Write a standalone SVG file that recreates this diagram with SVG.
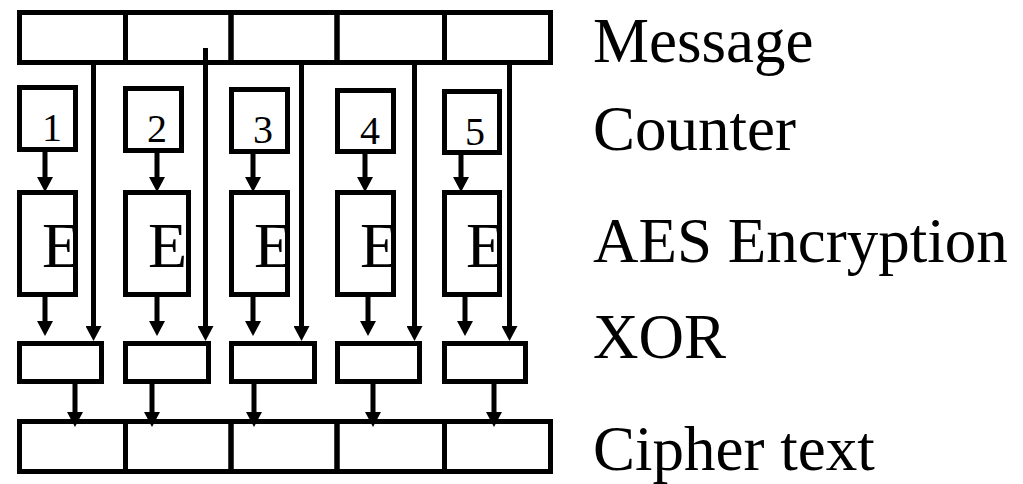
<svg xmlns="http://www.w3.org/2000/svg" width="1023" height="484" viewBox="0 0 1023 484">
<style>
.b{fill:none;stroke:#000;stroke-width:5}
.w{fill:#fff;stroke:#000;stroke-width:5}
.c{stroke:#000;stroke-width:5;fill:none}
.a{stroke:#000;stroke-width:5;fill:none;marker-end:url(#ah)}
.t{font-family:"Liberation Serif","Times New Roman",serif;fill:#000}
.lbl{font-size:63px}
.num{font-size:40px;text-anchor:middle}
.e{font-size:64px}
</style>
<defs>
<marker id="ah" markerUnits="userSpaceOnUse" markerWidth="16" markerHeight="16" refX="5" refY="8" orient="auto">
<path d="M0,0 L15,8 L0,16 z" fill="#000"/>
</marker>
</defs>
<rect width="1023" height="484" fill="#fff"/>
<g id="message">
<rect class="b" x="19.5" y="12.5" width="106" height="50"/>
<rect class="b" x="125.5" y="12.5" width="105.5" height="50"/>
<rect class="b" x="231" y="12.5" width="106" height="50"/>
<rect class="b" x="337" y="12.5" width="107.5" height="50"/>
<rect class="b" x="444.5" y="12.5" width="106" height="50"/>
</g>
<g id="cipher">
<rect class="b" x="19.5" y="421.5" width="106" height="50"/>
<rect class="b" x="125.5" y="421.5" width="105.5" height="50"/>
<rect class="b" x="231" y="421.5" width="106" height="50"/>
<rect class="b" x="337" y="421.5" width="107.5" height="50"/>
<rect class="b" x="444.5" y="421.5" width="106" height="50"/>
</g>
<g id="counter1"><rect class="b" x="19.5" y="87.5" width="56" height="62"/><text class="t num" x="52" y="141">1</text></g>
<g id="counter2"><rect class="b" x="125.5" y="88.5" width="56" height="62"/><text class="t num" x="157" y="142">2</text></g>
<g id="counter3"><rect class="b" x="231.5" y="89.5" width="56" height="62"/><text class="t num" x="263" y="143">3</text></g>
<g id="counter4"><rect class="b" x="337.5" y="90.5" width="56" height="61"/><text class="t num" x="370" y="144">4</text></g>
<g id="counter5"><rect class="b" x="444.5" y="91.5" width="55" height="61"/><text class="t num" x="475" y="145">5</text></g>
<g id="enc1"><text class="t e" x="42" y="267">E</text><rect class="b" x="19.5" y="192.5" width="56" height="102"/></g>
<g id="enc2"><text class="t e" x="148" y="267">E</text><rect class="b" x="125.5" y="192.5" width="63" height="102"/></g>
<g id="enc3"><text class="t e" x="254" y="267">E</text><rect class="b" x="231.5" y="192.5" width="56" height="102"/></g>
<g id="enc4"><text class="t e" x="360" y="267">E</text><rect class="b" x="337.5" y="192.5" width="56" height="102"/></g>
<g id="enc5"><text class="t e" x="466" y="267">E</text><rect class="b" x="444.5" y="192.5" width="55" height="102"/></g>
<g id="xor1"><rect class="b" x="19.5" y="343.5" width="82" height="38"/></g>
<g id="xor2"><rect class="b" x="125.5" y="343.5" width="83" height="38"/></g>
<g id="xor3"><rect class="b" x="231.5" y="343.5" width="83" height="38"/></g>
<g id="xor4"><rect class="b" x="337.5" y="343.5" width="82" height="38"/></g>
<g id="xor5"><rect class="b" x="444.5" y="343.5" width="81" height="38"/></g>
<g id="connectors">
<line class="a" x1="45" y1="151" x2="45" y2="182"/>
<line class="a" x1="157" y1="152" x2="157" y2="182"/>
<line class="a" x1="253" y1="153" x2="253" y2="182"/>
<line class="a" x1="365" y1="153" x2="365" y2="182"/>
<line class="a" x1="461" y1="154" x2="461" y2="182"/>
<line class="a" x1="45" y1="296" x2="45" y2="326"/>
<line class="a" x1="157" y1="296" x2="157" y2="326"/>
<line class="a" x1="253" y1="296" x2="253" y2="326"/>
<line class="a" x1="368" y1="296" x2="368" y2="326"/>
<line class="a" x1="465" y1="296" x2="465" y2="326"/>
<line class="a" x1="93.5" y1="62" x2="93.5" y2="331"/>
<line class="a" x1="205.5" y1="48" x2="205.5" y2="331"/>
<line class="a" x1="301.5" y1="62" x2="301.5" y2="331"/>
<line class="a" x1="414.5" y1="62" x2="414.5" y2="331"/>
<line class="a" x1="509.5" y1="62" x2="509.5" y2="331"/>
<line class="a" x1="75" y1="383" x2="75" y2="417"/>
<line class="a" x1="152" y1="383" x2="152" y2="417"/>
<line class="a" x1="254" y1="383" x2="254" y2="417"/>
<line class="a" x1="373" y1="383" x2="373" y2="417"/>
<line class="a" x1="494" y1="383" x2="494" y2="417"/>
</g>
<g id="labels">
<text class="t lbl" x="593" y="62">Message</text>
<text class="t lbl" x="593" y="150">Counter</text>
<text class="t lbl" x="593" y="262">AES Encryption</text>
<text class="t lbl" x="593" y="358">XOR</text>
<text class="t lbl" x="593" y="470">Cipher text</text>
</g>
</svg>
